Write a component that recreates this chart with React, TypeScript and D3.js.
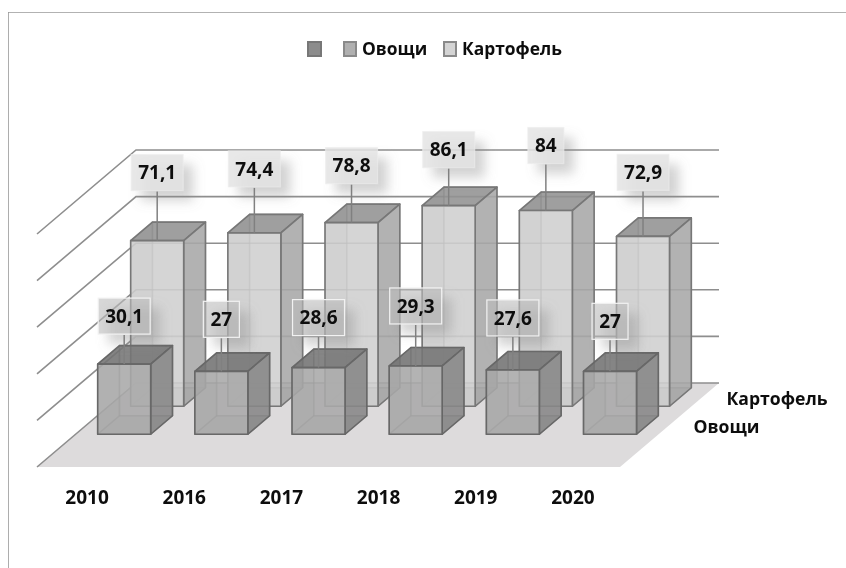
import React from 'react';
import * as d3 from 'd3';

const years = ['2010', '2016', '2017', '2018', '2019', '2020'];
const depthNames = [' ', 'Овощи', 'Картофель'];
const vegetables = [30.1, 27, 28.6, 29.3, 27.6, 27];
const potatoes = [71.1, 74.4, 78.8, 86.1, 84, 72.9];
const valueTicks = [0, 20, 40, 60, 80, 100];

// how far each data label was dragged above its bar in the original
const vegetableLift = [48, 52, 50, 60, 52, 50];
const potatoLift = [68, 64, 57, 56, 65, 64];

const fontFamily = '"Open Sans", "Noto Sans", sans-serif';

const floorLeft = 37;
const floorRight = 620;
const floorFront = 467;
const depthX = 99;
const depthY = 84;

const x = d3.scaleBand<string>().domain(years).range([floorLeft, floorRight]);
const depth = d3.scaleBand<string>().domain(depthNames).range([0, 1]);
const height = d3.scaleLinear().domain([0, 100]).range([0, 233]);

const barWidth = 53;
const barDepth = 0.22;

// oblique projection: position along the years, depth in 0..1, value
const project = (px: number, d: number, value: number): [number, number] => [
  px + d * depthX,
  floorFront - d * depthY - height(value),
];

const toPath = (pts: [number, number][]) => d3.line()(pts) + 'Z';

interface Palette {
  front: string;
  side: string;
  top: string;
  edge: string;
}

const potatoColors: Palette = { front: '#cfcfcf', side: '#a5a5a5', top: '#8e8e8e', edge: '#777777' };
const vegetableColors: Palette = { front: '#a9a9a9', side: '#858585', top: '#727272', edge: '#676767' };

const Bar: React.FC<{ year: string; series: string; value: number; colors: Palette }> = ({ year, series, value, colors }) => {
  const x0 = x(year)! + (x.bandwidth() - barWidth) / 2;
  const x1 = x0 + barWidth;
  const d0 = depth(series)! + (depth.bandwidth() - barDepth) / 2;
  const d1 = d0 + barDepth;
  const faces: [string, [number, number][]][] = [
    // hidden faces first, they show through the translucent ones
    [colors.side, [project(x0, d0, 0), project(x0, d1, 0), project(x0, d1, value), project(x0, d0, value)]],
    [colors.front, [project(x0, d1, 0), project(x1, d1, 0), project(x1, d1, value), project(x0, d1, value)]],
    [colors.top, [project(x0, d0, 0), project(x1, d0, 0), project(x1, d1, 0), project(x0, d1, 0)]],
    [colors.top, [project(x0, d0, value), project(x1, d0, value), project(x1, d1, value), project(x0, d1, value)]],
    [colors.side, [project(x1, d0, 0), project(x1, d1, 0), project(x1, d1, value), project(x1, d0, value)]],
    [colors.front, [project(x0, d0, 0), project(x1, d0, 0), project(x1, d0, value), project(x0, d0, value)]],
  ];
  return (
    <g>
      {faces.map(([fill, pts], i) => (
        <path key={i} d={toPath(pts)} fill={fill} fillOpacity={i < 3 ? 0.35 : 0.82} stroke={colors.edge} strokeOpacity={i < 3 ? 0.35 : 1} strokeWidth={1.6} strokeLinejoin="round" />
      ))}
    </g>
  );
};

const DataLabel: React.FC<{ year: string; series: string; value: number; lift: number; framed: boolean }> = ({ year, series, value, lift, framed }) => {
  const d0 = depth(series)! + (depth.bandwidth() - barDepth) / 2;
  const cx = x(year)! + x.bandwidth() / 2 + d0 * depthX;
  const topY = project(0, d0, value)[1];
  const cy = topY - lift;
  const text = String(value).replace('.', ',');
  const w = text.length > 2 ? 52 : 36;
  const h = 36;
  return (
    <g>
      <rect x={cx - w / 2 + 10} y={cy - h / 2 + 10} width={w} height={h} fill="#8a8a8a" fillOpacity={0.38} filter="url(#soft)" />
      <line x1={cx} x2={cx} y1={cy + h / 2 + 1} y2={topY} stroke="#808080" strokeWidth={1.5} />
      <rect x={cx - w / 2} y={cy - h / 2} width={w} height={h} fill={framed ? '#bcbcbc' : '#e4e4e4'} fillOpacity={framed ? 0.6 : 0.85} stroke={framed ? '#f2f2f2' : '#ececec'} strokeOpacity={framed ? 1 : 0.6} strokeWidth={1.2} />
      <text x={cx} y={cy} dy="0.36em" textAnchor="middle" fontFamily={fontFamily} fontWeight={700} fontSize={19} fill="#111">{text}</text>
    </g>
  );
};

export default function App() {
  const backFloor = project(floorLeft, 1, 0);
  const frontRight = project(floorRight, 0, 0);
  const backRight = project(floorRight, 1, 0);
  const frontLeft = project(floorLeft, 0, 0);

  return (
    <svg width={846} height={568} style={{ position: 'absolute', left: 0, top: 0 }}>
      <defs>
        <filter id="soft" x="-50%" y="-50%" width="200%" height="200%">
          <feGaussianBlur stdDeviation={6} />
        </filter>
        <filter id="scan" x="0" y="0" width="100%" height="100%">
          <feGaussianBlur stdDeviation={0.5} />
        </filter>
      </defs>
      <rect width={846} height={568} fill="#fff" />
      <g filter="url(#scan)">
        {/* frame of the chart area, only top and left survive the crop */}
        <path d="M846,12H8V568" fill="none" stroke="#999999" strokeWidth={1.6} />

        <path d={toPath([frontLeft, backFloor, backRight, frontRight])} fill="#dddbdc" />

        {valueTicks.map(t => {
          const a = project(floorLeft, 0, t);
          const b = project(floorLeft, 1, t);
          const c = project(floorRight, 1, t);
          return <path key={t} d={d3.line()([a, b, c])!} fill="none" stroke="#8e8e8e" strokeWidth={1.6} />;
        })}

        {years.map((y, i) => <Bar key={y} year={y} series="Картофель" value={potatoes[i]} colors={potatoColors} />)}
        {years.map((y, i) => <DataLabel key={y} year={y} series="Картофель" value={potatoes[i]} lift={potatoLift[i]} framed={false} />)}
        {years.map((y, i) => <Bar key={y} year={y} series="Овощи" value={vegetables[i]} colors={vegetableColors} />)}
        {years.map((y, i) => <DataLabel key={y} year={y} series="Овощи" value={vegetables[i]} lift={vegetableLift[i]} framed={true} />)}

        {years.map(y => (
          <text key={y} x={x(y)! + x.bandwidth() / 2 + 1.5} y={497} dy="0.36em" textAnchor="middle" fontFamily={fontFamily} fontWeight={700} fontSize={19} fill="#111">{y}</text>
        ))}

        {depthNames.slice(1).map(name => {
          const [px, py] = project(floorRight, depth(name)! + depth.bandwidth() / 2, 0);
          return <text key={name} x={px + 24} y={py + 2} dy="0.36em" fontFamily={fontFamily} fontWeight={700} fontSize={17.6} fill="#111">{name}</text>;
        })}

        {/* legend */}
        <rect x={308} y={42} width={13} height={14} fill="#8c8c8c" stroke="#777" strokeWidth={2} />
        <rect x={344} y={42} width={12} height={14} fill="#b0b0b0" stroke="#8a8a8a" strokeWidth={2} />
        <text x={362} y={49} dy="0.36em" fontFamily={fontFamily} fontWeight={700} fontSize={17.4} fill="#111">{depthNames[1]}</text>
        <rect x={444} y={42} width={12} height={14} fill="#d4d4d4" stroke="#8a8a8a" strokeWidth={2} />
        <text x={462} y={49} dy="0.36em" fontFamily={fontFamily} fontWeight={700} fontSize={17.4} fill="#111">{depthNames[2]}</text>
      </g>
    </svg>
  );
}
